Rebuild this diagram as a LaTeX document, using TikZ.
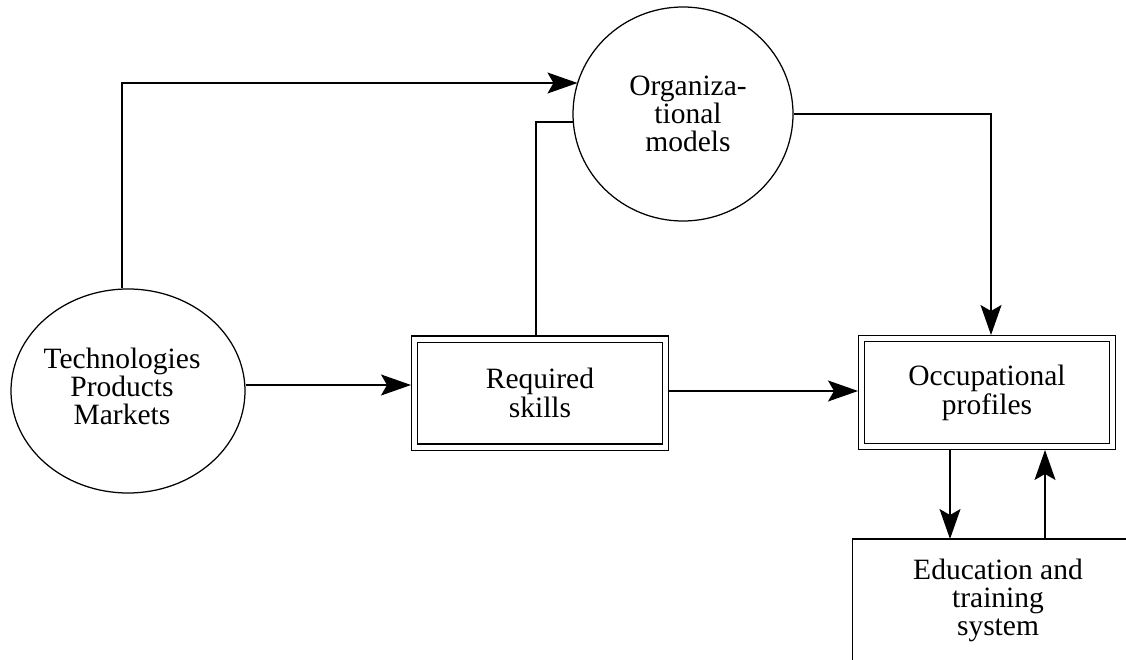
\documentclass[tikz,border=0pt]{standalone}
\usepackage{fontspec}
\setmainfont{Liberation Serif}
\usetikzlibrary{arrows.meta,shapes.geometric}
\begin{document}
\begin{tikzpicture}[x=1pt,y=-1pt,line width=1.25pt,
  arr/.style={-{Stealth[length=30pt,width=21pt,inset=6pt]}},
  txt/.style={align=center,font=\fontsize{29.5}{28}\selectfont,inner sep=0pt},
  dbox/.style={draw,double,double distance=5pt,line width=1.1pt,
    minimum width=251pt,minimum height=108pt,inner sep=0pt,outer sep=3.5pt,
    align=center,font=\fontsize{29.5}{29}\selectfont},
  circ/.style={draw,ellipse,inner sep=0pt}]
\useasboundingbox (0,0) rectangle (1126,660);
% nodes
\node[circ,minimum width=234pt,minimum height=204pt] (tech) at (128,391) {};
\node[txt] (techlbl) at (122,386) {Technologies\\Products\\Markets};
\node[circ,minimum width=220pt,minimum height=214pt] (org) at (683,114) {};
\node[txt] (orglbl) at (688,114) {Organiza-\\tional\\models};
\node[dbox] (req) at (540,393) {Required\\skills};
\node[dbox] (occ) at (987,392.5) {Occupational\\profiles};
\node[txt] (edu) at (998,600) {Education and\\training\\system};
% education frame
\coordinate (e1) at (852.7,539);
\draw (852.7,660) -- (e1) -- (1126,539);
% connectors
\coordinate (c1) at (122,83);
\draw[arr] (tech.north -| c1) -- (c1) -- (c1 -| org.163.6);
\coordinate (c2) at (536,122);
\draw (req.north -| c2) -- (c2) -- (c2 -| org.184.2);
\coordinate (c3) at (991,114);
\draw[arr] (org.east) -- (c3) -- (occ.north -| c3);
\coordinate (c4) at (0,385);
\draw[arr] (tech.east |- c4) -- (req.west |- c4);
\coordinate (c5) at (0,391);
\draw[arr] (req.east |- c5) -- (occ.west |- c5);
\coordinate (d1) at (950,0);
\draw[arr] (occ.south -| d1) -- (e1 -| d1);
\coordinate (u1) at (1045,0);
\draw[arr] (e1 -| u1) -- (occ.south -| u1);
\end{tikzpicture}
\end{document}
